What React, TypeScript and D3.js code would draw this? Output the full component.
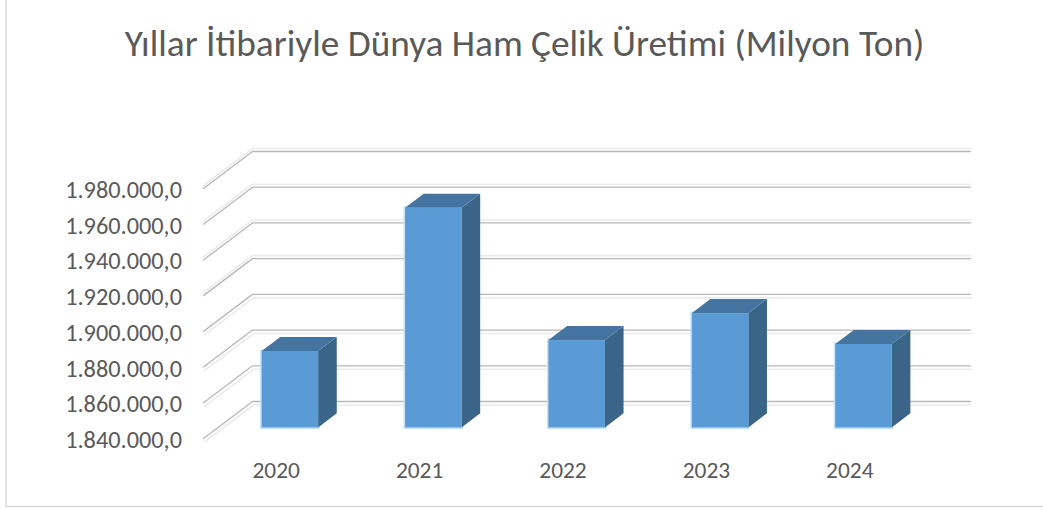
import React from "react";
import * as d3 from "d3";

const categories = ["2020", "2021", "2022", "2023", "2024"];
const production = [1882800, 1963000, 1888900, 1904000, 1886700];
const yTicks = [1840000, 1860000, 1880000, 1900000, 1920000, 1940000, 1960000, 1980000];
const chartTitle = "Yıllar İtibariyle Dünya Ham Çelik Üretimi (Milyon Ton)";

const font = "Carlito, Calibri, Lato, 'Open Sans', sans-serif";
const W = 1043, H = 510;
const depthX = 49, depthY = 37;

const x = d3.scaleBand<string>().domain(categories).range([203.5, 920.5]);
const y = d3.scaleLinear().domain([1840000, 1980000]).range([438.5, 188.5]);
const fmt = (v: number) =>
  d3.formatLocale({ decimal: ",", thousands: ".", grouping: [3], currency: ["", ""] }).format(",.1f")(v);

const barW = 56.5;
const barDepthStart = 0.3;
const barDepthEnd = 0.68;

export default function App() {
  const [x0, x1] = x.range();
  return (
    <svg width={W} height={H} style={{ position: "absolute", left: 0, top: 0 }}>
      <rect width={W} height={H} fill="#fff" />
      <path d="M6,0V506.5H1043" fill="none" stroke="#d9d9d9" strokeWidth={1.5} />
      <text x={524.5} y={56} textAnchor="middle" fontFamily={font} fontSize={37.3} fill="#595959">{chartTitle}</text>
      {yTicks.map((t) => {
        const p = y(t);
        const d = `M${x0},${p}L${x0 + depthX},${p - depthY}H${x1 + depthX + 1}`;
        const off = t <= 1900000 ? 3.5 : -3;
        return (
          <g key={t} fill="none" strokeLinecap="round" strokeLinejoin="round">
            <path d={d} stroke="#ebebeb" strokeWidth={1.6} transform={`translate(${off > 0 ? 1 : 0},${off})`} />
            <path d={d} stroke="#b8b8b8" strokeWidth={1.3} />
            <text x={182} y={p + 9.5} textAnchor="end" fontFamily={font} fontSize={24.3} fill="#595959" stroke="none">{fmt(t)}</text>
          </g>
        );
      })}
      {categories.map((c, i) => {
        const base = y(1840000);
        const top = y(production[i]);
        const cx = x(c)! + x.bandwidth() / 2;
        const l = cx - barW / 2 + depthX * barDepthStart;
        const r = l + barW;
        const b = base - depthY * barDepthStart;
        const t = top - depthY * barDepthStart;
        const dx = depthX * (barDepthEnd - barDepthStart);
        const dy = depthY * (barDepthEnd - barDepthStart);
        return (
          <g key={c}>
            <path d={`M${l},${t}H${r}V${b}H${l}Z`} fill="none" stroke="#bfe3f7" strokeWidth={3} />
            <path d={`M${r},${b}L${r + dx},${b - dy}V${t - dy}L${r},${t}Z`} fill="#3a6589" />
            <path d={`M${l},${t}L${l + dx},${t - dy}H${r + dx}L${r},${t}Z`} fill="#44749f" />
            <rect x={l} y={t} width={barW} height={b - t} fill="#5b9bd5" />
            <text x={cx + 1} y={478} textAnchor="middle" fontFamily={font} fontSize={23.4} fill="#595959">{c}</text>
          </g>
        );
      })}
    </svg>
  );
}
